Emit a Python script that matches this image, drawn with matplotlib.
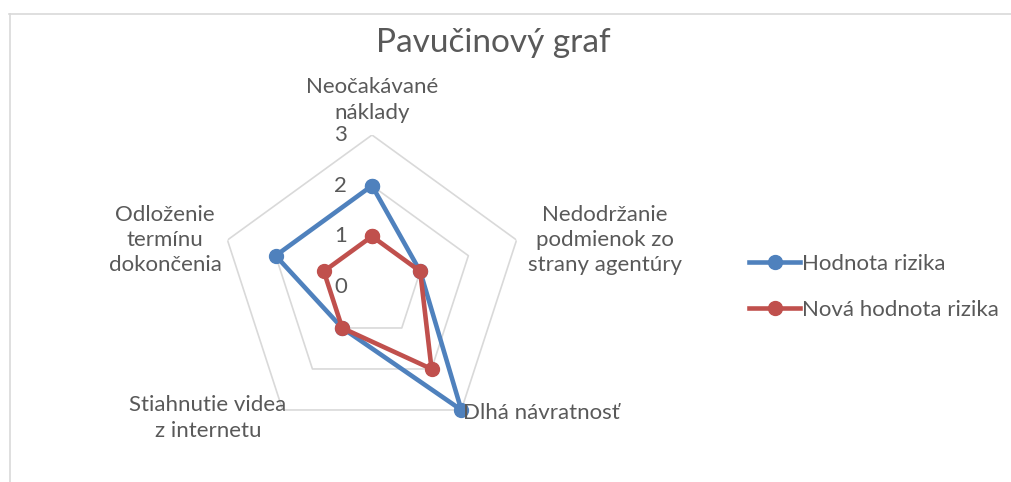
import numpy as np
import matplotlib.pyplot as plt
from matplotlib.lines import Line2D

plt.rcParams['font.family'] = ['Lato', 'DejaVu Sans']

categories = ['Neočakávané\nnáklady',
              'Nedodržanie\npodmienok zo\nstrany agentúry',
              'Dlhá návratnosť',
              'Stiahnutie videa\nz internetu',
              'Odloženie\ntermínu\ndokončenia']
hodnota = [2, 1, 3, 1, 2]
nova_hodnota = [1, 1, 2, 1, 1]
series_names = ['Hodnota rizika', 'Nová hodnota rizika']
r_ticks = [0, 1, 2, 3]

W, H = 1011, 482
txt = '#595959'
grid = '#D9D9D9'
blue = '#4F81BD'
red = '#C0504D'
fs = 16


def fx(x):
    return x / W


def fy(y):
    return 1 - y / H


fig = plt.figure(figsize=(W / 100, H / 100), dpi=100)

# chart border (cropped screenshot, only left and top visible)
fig.add_artist(Line2D([fx(9.5), fx(9.5)], [fy(14), 0], color=grid, lw=1.2))
fig.add_artist(Line2D([fx(9), 1], [fy(14), fy(14)], color=grid, lw=1.2))

cx, cy, R = 372, 287, 152
ax = fig.add_axes([fx(cx - R), fy(cy + R), 2 * R / W, 2 * R / H], projection='polar')
ax.set_theta_offset(np.pi / 2)
ax.set_theta_direction(-1)
ax.set_ylim(0, 3)
ax.grid(False)
ax.spines['polar'].set_visible(False)
ax.set_xticks([])
ax.set_yticks([])
ax.patch.set_alpha(0)

n = len(categories)
theta = np.arange(n) * 2 * np.pi / n
theta_c = np.append(theta, theta[0])

for lvl in r_ticks[1:]:
    ax.plot(theta_c, [lvl] * (n + 1), color=grid, lw=1.2, zorder=1)

for vals, col, name in [(hodnota, blue, series_names[0]), (nova_hodnota, red, series_names[1])]:
    ax.plot(theta_c, vals + vals[:1], color=col, lw=3.3, marker='o', ms=10,
            label=name, zorder=3, clip_on=False)

for v in r_ticks:
    ax.annotate(str(v), xy=(0, v), xytext=(-25, 0), textcoords='offset pixels',
                ha='right', va='center', fontsize=fs, color=txt, annotation_clip=False)

label_pos = [(372, 100, 'center'), (605, 240, 'center'), (463, 413, 'left'),
             (208, 418, 'center'), (165, 240, 'center')]
for lab, (x, y, ha) in zip(categories, label_pos):
    fig.text(fx(x), fy(y), lab, ha=ha, va='center', multialignment='center',
             fontsize=fs, color=txt, linespacing=1.32)

fig.text(fx(493), fy(43), 'Pavučinový graf', ha='center', va='center', fontsize=24, color=txt)

handles, labels = ax.get_legend_handles_labels()
fig.legend(handles, labels, loc='center left', bbox_to_anchor=(fx(729), fy(287)),
           frameon=False, fontsize=fs, handlelength=2.3, handletextpad=0.1,
           labelspacing=1.15, labelcolor=txt)

fig.savefig('out.png', dpi=100)
